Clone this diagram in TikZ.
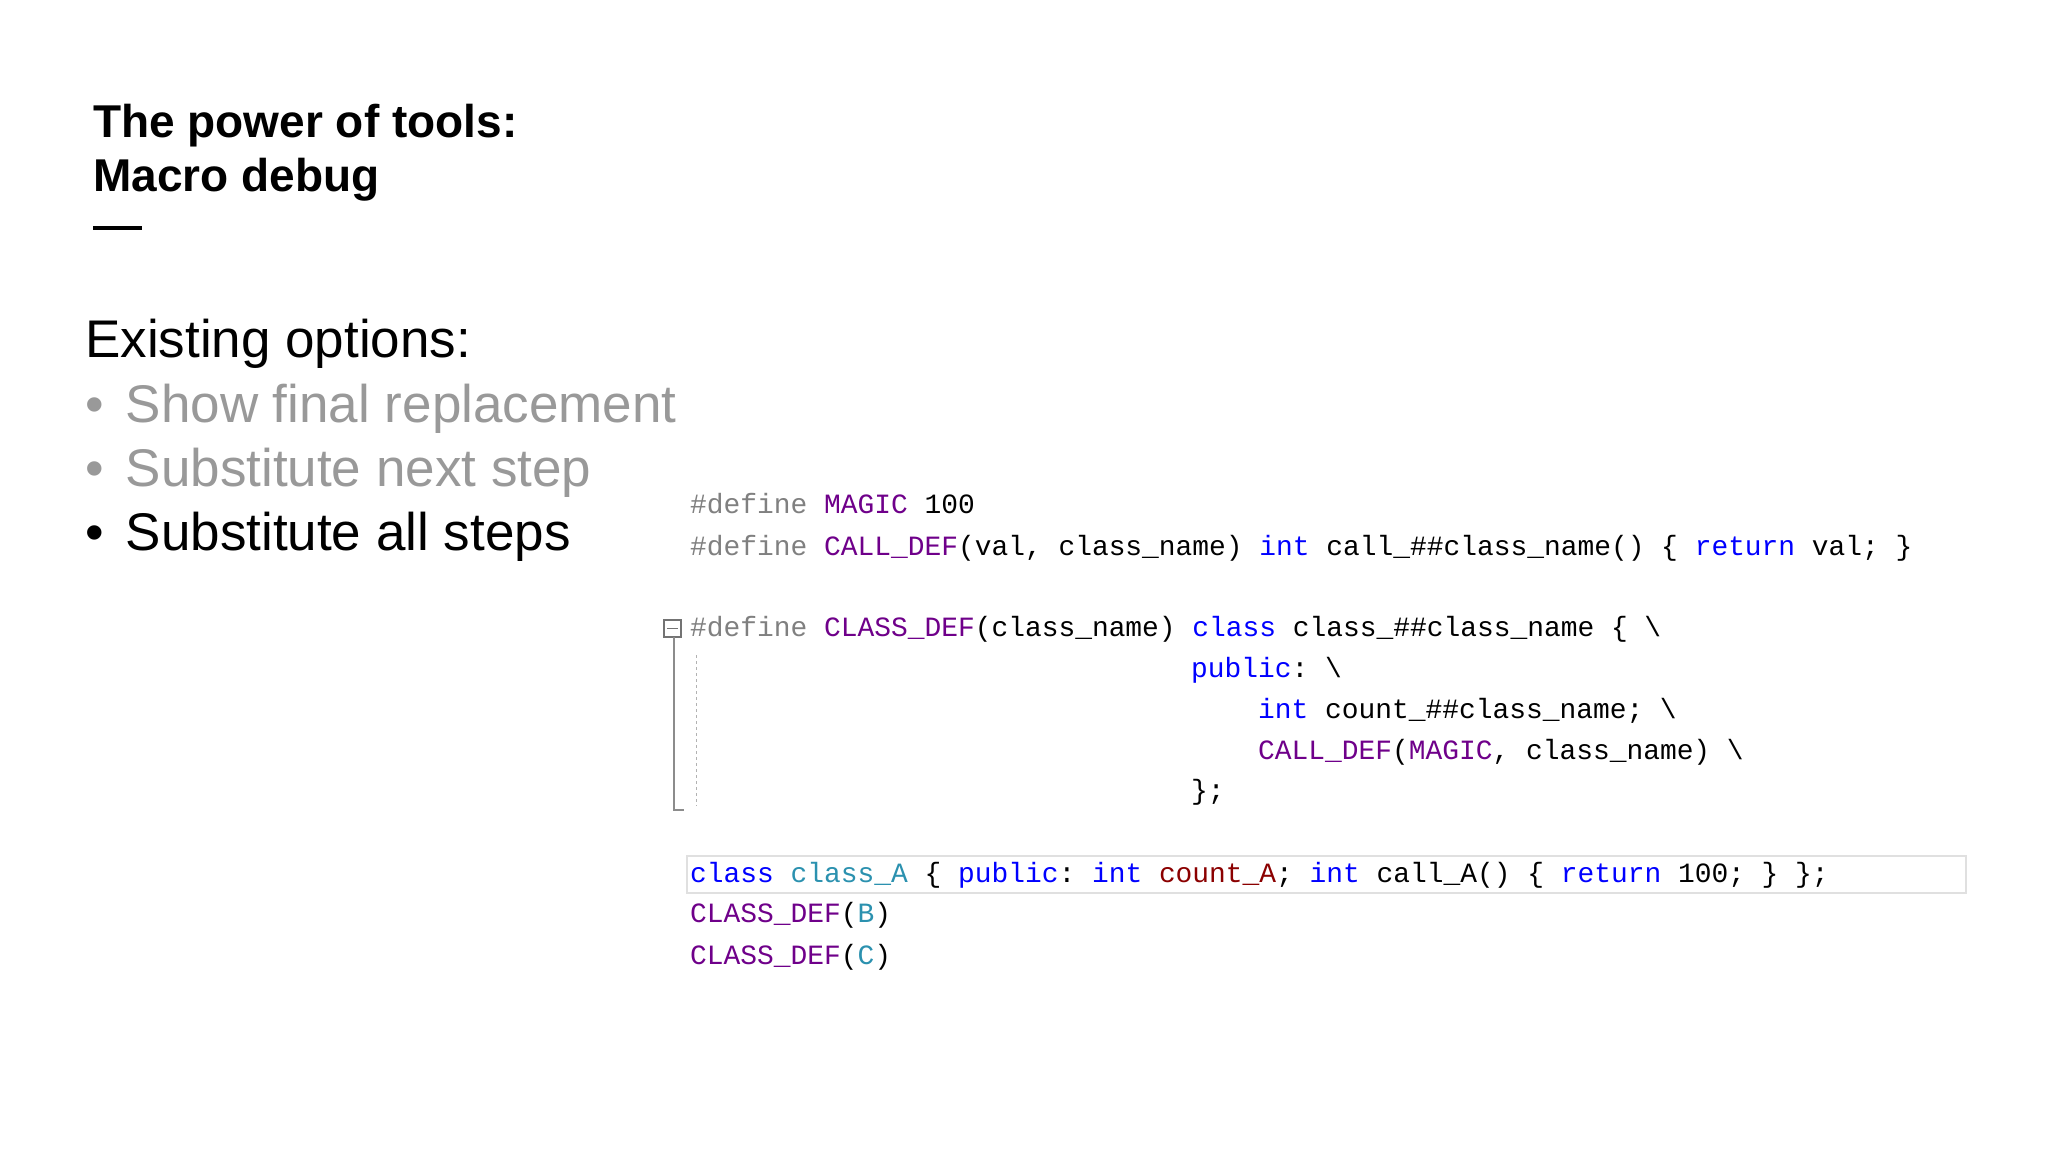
\documentclass[tikz,border=0pt]{standalone}
\usepackage{fontspec}
\setmainfont{Liberation Sans}
\setmonofont{Liberation Mono}
\definecolor{kw}{HTML}{0000FF}
\definecolor{mac}{HTML}{6F008A}
\definecolor{pp}{HTML}{808080}
\definecolor{ty}{HTML}{2B91AF}
\definecolor{fld}{HTML}{8B0000}
\definecolor{bul}{HTML}{999999}
\tikzset{
 title/.style={anchor=base west,inner sep=0,font=\fontsize{46}{50}\selectfont\bfseries},
 body/.style={anchor=base west,inner sep=0,font=\fontsize{53}{58}\selectfont},
 code/.style={anchor=base west,inner sep=0,font=\fontsize{27.9}{30}\selectfont\ttfamily}
}
\newcommand{\K}[1]{\textcolor{kw}{#1}}
\newcommand{\M}[1]{\textcolor{mac}{#1}}
\newcommand{\PP}[1]{\textcolor{pp}{#1}}
\newcommand{\T}[1]{\textcolor{ty}{#1}}
\begin{document}
\begin{tikzpicture}[x=1pt,y=-1pt]
\useasboundingbox (0,0) rectangle (2048,1152);
\fill[white] (0,0) rectangle (2048,1152);
\node[title] (t1) at (93,137) {The power of tools:};
\node[title] (t2) at (93,191) {Macro debug};
\fill[black] (93,226) rectangle (142,230);
\node[body] (eo) at (85,357) {Existing options:};
\node[body,text=bul] (b1) at (85,422) {\textbullet\hspace{22pt}Show final replacement};
\node[body,text=bul] (b2) at (85,486) {\textbullet\hspace{22pt}Substitute next step};
\node[body] (b3) at (85,550) {\textbullet\hspace{22pt}Substitute all steps};
% highlight line
\draw[black!12,line width=2.5pt] (687,856) rectangle (1966,893);
% fold marker
\draw[black!55,line width=1.2pt] (664,620) rectangle (681,637);
\draw[black!55,line width=1.2pt] (667,628.5) -- (678,628.5);
\draw[black!45,line width=1.2pt] (674,637) -- (674,810) -- (684,810);
\draw[black!30,dashed,line width=1pt] (696,655) -- (696,806);
\node[code] (c1) at (690,513) {\PP{\#define} \M{MAGIC} 100};
\node[code] (c2) at (690,555) {\PP{\#define} \M{CALL\_DEF}(val, class\_name) \K{int} call\_\#\#class\_name() \{ \K{return} val; \}};
\node[code] (c4) at (690,636) {\PP{\#define} \M{CLASS\_DEF}(class\_name) \K{class} class\_\#\#class\_name \{ \textbackslash};
\node[code] (c5) at (1191,677) {\K{public}: \textbackslash};
\node[code] (c6) at (1258,718) {\K{int} count\_\#\#class\_name; \textbackslash};
\node[code] (c7) at (1258,759) {\M{CALL\_DEF}(\M{MAGIC}, class\_name) \textbackslash};
\node[code] (c8) at (1191,799) {\};};
\node[code] (c9) at (690,882) {\K{class} \T{class\_A} \{ \K{public}: \K{int} \textcolor{fld}{count\_A}; \K{int} call\_A() \{ \K{return} 100; \} \};};
\node[code] (c10) at (690,922) {\M{CLASS\_DEF}(\T{B})};
\node[code] (c11) at (690,964) {\M{CLASS\_DEF}(\T{C})};
\end{tikzpicture}
\end{document}
